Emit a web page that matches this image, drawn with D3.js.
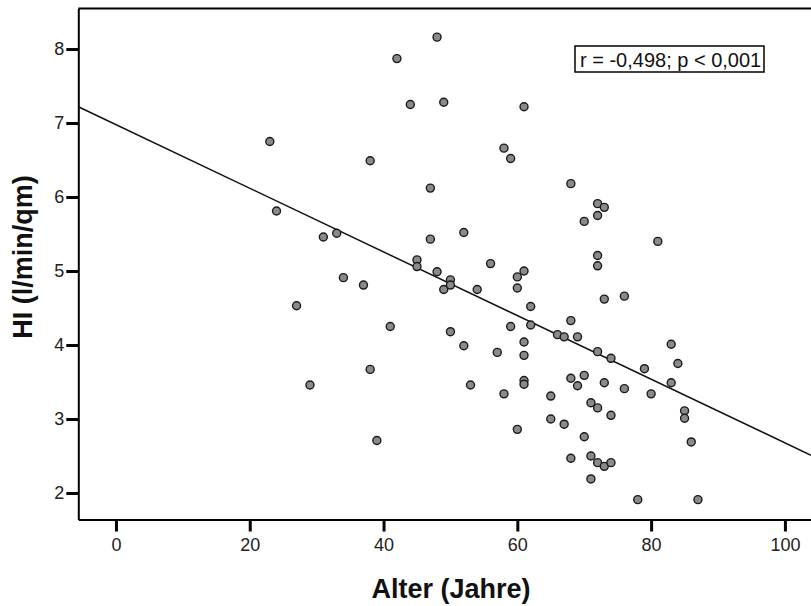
<!DOCTYPE html>
<html>
<head>
<meta charset="utf-8">
<script src="https://cdn.jsdelivr.net/npm/d3@7/dist/d3.min.js"></script>
<style>
  html, body { margin: 0; padding: 0; background: #fff; }
  svg { display: block; font-family: Arial, "Liberation Sans", sans-serif; }
</style>
</head>
<body>
<svg id="chart" width="811" height="606"></svg>
<script>
// Age (years) of each patient
const age = [
  23, 24, 27, 29, 31, 33, 34, 37, 38, 38,
  39, 41, 42, 44, 45, 45, 47, 47, 48, 48,
  49, 49, 50, 50, 50, 52, 52, 53, 54, 56,
  57, 58, 58, 59, 59, 60, 60, 60, 61, 61,
  61, 61, 61, 61, 62, 62, 65, 65, 66, 67,
  67, 68, 68, 68, 68, 69, 69, 70, 70, 70,
  71, 71, 71, 72, 72, 72, 72, 72, 72, 72,
  73, 73, 73, 73, 74, 74, 74, 76, 76, 78,
  79, 80, 81, 83, 83, 84, 85, 85, 86, 87
];
// Heart index (l/min/qm) for the same patients
const hi = [
  6.75, 5.81, 4.53, 3.46, 5.46, 5.51, 4.91, 4.81, 6.49, 3.67,
  2.71, 4.25, 7.87, 7.25, 5.15, 5.06, 6.12, 5.43, 8.16, 4.99,
  7.28, 4.75, 4.88, 4.81, 4.18, 5.52, 3.99, 3.46, 4.75, 5.10,
  3.90, 6.66, 3.34, 6.52, 4.25, 4.92, 4.77, 2.86, 7.22, 5.00,
  4.04, 3.86, 3.52, 3.47, 4.52, 4.27, 3.31, 3.00, 4.14, 2.93,
  4.11, 6.18, 4.33, 3.55, 2.47, 4.11, 3.45, 5.67, 3.59, 2.76,
  3.22, 2.50, 2.19, 5.91, 5.75, 5.21, 5.07, 3.91, 3.15, 2.41,
  5.86, 4.62, 3.49, 2.36, 3.82, 3.05, 2.41, 4.66, 3.41, 1.91,
  3.68, 3.34, 5.40, 4.01, 3.49, 3.75, 3.11, 3.01, 2.69, 1.91
];
const xTicks = [0, 20, 40, 60, 80, 100];
const yTicks = [2, 3, 4, 5, 6, 7, 8];
// Linear fit HI = intercept + slope * age
const fitIntercept = 6.978;
const fitSlope = -0.0430;
const statLabel = "r = -0,498; p < 0,001";
const xTitle = "Alter (Jahre)";
const yTitle = "HI (l/min/qm)";

const svg = d3.select("#chart");
const plot = { left: 78.3, right: 811, top: 8.5, bottom: 519.5 };

const x = d3.scaleLinear().domain([-5.63, 103.9]).range([plot.left, plot.right]);
const y = d3.scaleLinear().domain([1.642, 8.547]).range([plot.bottom, plot.top]);

// frame top line
svg.append("line")
  .attr("x1", plot.left).attr("x2", plot.right)
  .attr("y1", plot.top).attr("y2", plot.top)
  .attr("stroke", "#000").attr("stroke-width", 2.2);

// axes
const xAxis = svg.append("g")
  .attr("transform", `translate(0,${plot.bottom})`)
  .call(d3.axisBottom(x).tickValues(xTicks).tickFormat(d3.format("d"))
    .tickSize(12).tickSizeOuter(0).tickPadding(7));
const yAxis = svg.append("g")
  .attr("transform", `translate(${plot.left},0)`)
  .call(d3.axisLeft(y).tickValues(yTicks).tickFormat(d3.format("d"))
    .tickSize(12).tickSizeOuter(0).tickPadding(2));

[xAxis, yAxis].forEach(g => {
  g.select(".domain").attr("stroke", "#000").attr("stroke-width", 2);
  g.selectAll(".tick line").attr("stroke", "#000").attr("stroke-width", 3);
  g.selectAll(".tick text")
    .attr("fill", "#222")
    .style("font-size", "18px")
    .style("font-family", "Arial, 'Liberation Sans', sans-serif");
});

// clip for marks inside plot
svg.append("clipPath").attr("id", "plotClip")
  .append("rect")
  .attr("x", plot.left).attr("y", plot.top)
  .attr("width", plot.right - plot.left).attr("height", plot.bottom - plot.top);

// regression line
const [x0, x1] = x.domain();
svg.append("line")
  .attr("clip-path", "url(#plotClip)")
  .attr("x1", x(x0)).attr("y1", y(fitIntercept + fitSlope * x0))
  .attr("x2", x(x1)).attr("y2", y(fitIntercept + fitSlope * x1))
  .attr("stroke", "#111").attr("stroke-width", 1.5);

// scatter points
svg.append("g")
  .selectAll("circle")
  .data(age.map((a, i) => ({ a, h: hi[i] })))
  .join("circle")
  .attr("cx", d => x(d.a))
  .attr("cy", d => y(d.h))
  .attr("r", 4)
  .attr("fill", "#8a8a8a")
  .attr("stroke", "#1a1a1a")
  .attr("stroke-width", 1.4);

// statistics box
const box = svg.append("g");
box.append("rect")
  .attr("x", 575).attr("y", 46).attr("width", 189).attr("height", 26)
  .attr("fill", "#fff").attr("stroke", "#000").attr("stroke-width", 1.5);
box.append("text")
  .attr("x", 580).attr("y", 66.5)
  .attr("fill", "#111")
  .style("font-size", "20px")
  .text(statLabel);

// axis titles
svg.append("text")
  .attr("x", (x(0) + x(100)) / 2 + 0.5).attr("y", 598)
  .attr("text-anchor", "middle")
  .style("font-size", "27px").style("font-weight", "bold")
  .attr("fill", "#111")
  .text(xTitle);

svg.append("text")
  .attr("transform", `translate(32,257) rotate(-90)`)
  .attr("text-anchor", "middle")
  .style("font-size", "27px").style("font-weight", "bold")
  .attr("fill", "#111")
  .text(yTitle);
</script>
</body>
</html>
